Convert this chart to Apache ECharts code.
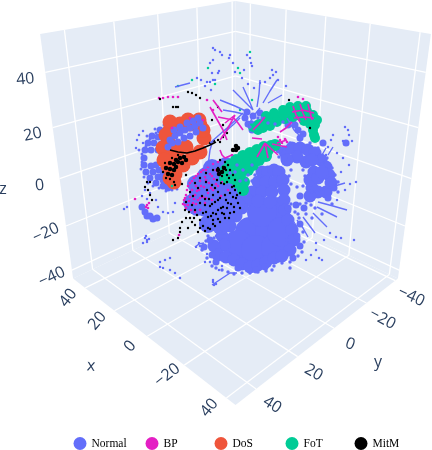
<!DOCTYPE html>
<html><head><meta charset="utf-8">
<style>html,body{margin:0;padding:0;background:#fff}#c{width:432px;height:450px}</style>
<script src="https://cdn.jsdelivr.net/npm/echarts@6/dist/echarts.min.js"></script></head>
<body><div id="c"></div><script>
// Axis ticks and labels
const xTicks=[40,20,0,-20,-40];
const yTicks=[40,20,0,-20,-40];
const zTicks=[40,20,0,-20,-40];
const xTickText=['40','20','0','\u221220','40'];
const yTickText=['40','20','0','\u221220','\u221240'];
const zTickText=['40','20','0','\u221220','\u221240'];
const classNames=['Normal','BP','DoS','FoT','MitM'];

// Readings on the projected picture plane, grouped by class and by how dense the cloud is there
const normalCore=[[250,232],[270,232],[275,212],[262,212],[238,245],[256,250],[276,248],[282,232]];
const normalBody=[[262,172],[268,172],[274,170],[279,172],[258,182],[266,182],[275,182],[283,180],[252,192],[262,192],[272,192],[284,190],[248,200],[258,201],[270,202],[284,200],[242,208],[285,210],[236,216],[288,220],[230,226],[292,230],[222,236],[224,245],[294,240],[214,246],[290,250],[218,255],[226,257],[234,260],[242,264],[250,267],[258,265],[266,262],[274,258],[282,256],
 [285,152],[292,148],[300,148],[308,150],[315,153],[321,160],[326,167],[329,175],[331,183],[326,192],[318,192],[312,188],[310,180],[314,172],[306,162],[297,157],[287,160],[318,178],[322,172],[312,160],[310,196]];
const normalCluster=[[215,180],[225,177],[205,185],[198,195],[210,195],[222,190],[230,185],[205,208],[218,205],[230,200],[228,213],[215,218],[208,224],[192,203],[196,184],[206,176],[216,170],[226,166],[233,178],[236,192],[236,205],[221,226],[197,207],[212,168]];
const normalMid=[[279,150],[284,158],[296,205],[288,208],[300,196],[304,208],[334,188],[328,198],[300,224],[297,236],[300,246],[293,258],[265,267],[256,270],[238,268],[212,255],[216,262],[210,240],[204,247],
 [247,112],[253,116],[260,113],[266,120],[256,124],[248,124],[262,128],[252,130],[245,118],[295,125],[298,130],[303,134],[293,120],[288,125],[300,138]];
const normalFringe=[[208,236],[206,241],[202,250],[207,258],[212,266],[216,268],[222,270],[228,272],[234,274],[242,273],[250,273],[258,272],[266,271],[274,266],[282,263],[290,262],[298,256],[302,252],[304,242],[303,232],[299,218],[295,212],[291,204],[300,204],[306,203],[311,205],[315,208],[306,214],[298,214],[312,218],[322,214],[332,204],[338,192],[338,182],[335,175],[332,168],[327,158],[318,148],[310,143],[300,143],[290,143],[282,148],[279,157],[247,187],[243,196],[237,204],[230,214],[225,222],[219,229],[214,238],[291,170],[289,176],[291,184],[297,187],[303,186],[305,176],[303,170],[255,175],[252,181],[287,240],[290,268],[272,270]];
const normalLeft=[[168,127],[160,130],[152,136],[148,143],[145,150],[144,158],[144,165],[146,172],[150,178],[156,183],[163,186],[168,188],[165,133],[158,137],[154,143],[151,150],[151,166],[153,172],[158,177],[163,180],[168,182],[172,185],[170,128],[172,133],[166,140],[161,144],[158,150],[156,165],[159,170],[163,175],[168,176],[164,150],[162,158],[142,207],[145,212],[147,216],[150,216],[153,219],[157,218],[323,143],[346,143]];
const normalLeftFine=[[156,133],[150,139],[146,146],[142,154],[142,162],[141,169],[144,177],[148,183],[153,186],[159,188],[166,191],[172,190],[177,189],[164,125],[172,124],[176,126],[155,129],[147,136],[139,150]];
const normalBand=[[170,140],[175,136],[180,133],[185,130],[190,128],[195,126],[200,123],[174,130],[180,127],[187,123],[193,121],[198,118],[168,147],[172,143],[178,142],[184,138],[190,136],[196,132],[203,128]];
const normalFine=[[213,48],[215,50],[220,52],[222,55],[230,55],[229,58],[233,63],[235,72],[247,55],[250,58],[251,63],[252,66],[210,82],[215,80],[218,73],[212,73],[219,71],[213,60],[210,63],[207,82],[213,80],
 [272,70],[273,75],[270,78],[265,82],[260,83],[286,86],[276,72],[278,80],[244,70],[242,78],[254,88],[248,84],[197,78],[201,80],[205,86],[211,90],
 [345,127],[348,130],[349,135],[352,141],[348,144],[343,141],[333,135],[331,140],[328,147],[326,155],[324,163],[349,165],[343,158],[337,153],[341,172],[350,184],[356,182],[345,190],[337,200],
 [306,260],[311,255],[316,250],[316,243],[319,258],[322,260],[324,240],[341,238],[336,237],[330,233],[354,240],[213,282],[214,285],[213,280],[216,284],
 [199,243],[200,246],[196,247],[207,254],[222,266],[216,236],[222,231],[210,262],[205,262],[219,270],
 [145,238],[147,240],[147,242],[143,243],[149,239],[146,236],[160,262],[165,260],[170,258],[160,267],[163,268],[170,270],[175,273],[180,278],[124,209],[127,207],[156,200],[158,207],[163,212],[168,213],[173,212],[175,203],
 [137,140],[139,135],[143,131],[143,143],[136,148],[145,190],[150,193],[142,196],[147,199]];
const normalRays=[[[310,193],[328,188],[345,183]],[[318,202],[333,206],[347,210]],[[317,207],[327,212],[337,217]],[[313,213],[320,220],[327,227]],[[303,217],[309,225],[315,233]],[[297,220],[303,228],[308,237]],[[290,215],[294,222],[297,227]],[[322,155],[326,148]],[[328,155],[333,147]],
 [[212,285],[221,279],[230,273],[237,273]],[[195,247],[199,244],[204,243]],[[253,110],[248,98],[243,87]],[[253,110],[243,100],[233,90]],[[250,113],[235,106],[220,100]],[[257,107],[259,94],[260,80]],[[263,103],[270,91],[277,80]],[[268,103],[275,99],[282,95]],[[247,115],[235,112],[223,110]],[[243,113],[227,128],[210,143]],[[260,108],[252,118],[248,128]],[[208,167],[209,158],[210,150],[213,140]],[[175,87],[190,83]],[[240,118],[234,124],[226,131]],[[287,118],[294,130],[300,136]]];
const fotBody=[[230,165],[236,160],[243,156],[250,153],[257,150],[264,147],[271,146],[262,153],[254,158],[247,163],[240,167],[234,170],[240,175],[248,170],[244,182],[232,178],[275,145],[268,150],[226,170],[225,178],[238,183],[253,165],[259,160],[266,156],[243,190]];
const fotUpper=[[253,127],[259,124],[265,121],[271,118],[277,116],[283,114],[289,112],[295,111],[301,110],[307,111],[313,115],[317,120],[315,125],[313,130],[314,135],[300,116],[293,117],[285,119],[277,122],[270,126],[263,128],[315,138],[290,107],[298,106],[306,106],[283,110],[274,113],[266,116],[309,118],[310,124],[304,121],[258,130]];
const fotFine=[[240,73],[238,68],[192,80],[178,86],[208,68],[250,52],[172,186],[240,110],[262,116],[252,100],[215,84]];
const normalOverFot=[[237,165],[243,170],[248,175],[235,172],[240,181],[230,173],[252,165],[246,180],[252,122],[258,118],[250,127],[262,118],[268,123],[275,124],[283,122]];
const dosBody=[[170,130],[180,124],[190,124],[200,125],[168,142],[166,155],[168,166],[175,174],[174,182],[183,165],[192,158],[200,152],[204,138],[203,130],[178,150],[176,160],[186,147],[170,122],[166,135],[163,148],[164,160],[170,178],[188,120],[199,120]];
const bpSpecks=[[187,190],[186,195],[184,200],[190,183],[194,178],[198,174],[203,170],[208,167],[213,164],[218,162],[192,190],[196,186],[200,181],[205,177],[210,174],[216,170],[190,197],[195,195],[199,190],[204,187],[209,183],[214,179],[220,175],[193,203],[198,200],[203,197],[208,193],[213,190],[218,186],[225,168],[222,182],[188,205],[191,210],[200,210],[205,203],[212,200],[221,196],[228,190],
 [188,186],[192,181],[196,176],[201,172],[206,170],[185,198],[189,201],[194,199],[197,191],[201,186],[206,180],[212,176],[218,172],[183,204],[186,208],[196,204],[200,198],[206,198],[211,188],[216,184],
 [147,205],[146,207],[149,203],[148,208],[135,199],[159,98],[163,98],[168,97],[173,97],[178,97],[207,100],[213,110],[298,97],[303,99],[280,140],[282,143],[285,139],[278,137],[287,142],[195,212],[232,155],[185,205],[179,235],[172,128],[203,120],[190,118],[176,167]];
const bpStreaks=[[[293,106],[296,115],[300,122]],[[300,104],[303,113],[306,120]],[[308,104],[310,112],[312,120]],[[292,112],[303,110],[314,113]],[[294,118],[304,117],[314,118]],[[280,132],[286,128],[292,122]],[[243,130],[238,123],[233,117]],[[225,123],[230,119],[235,115]],[[253,130],[259,124],[265,117]],[[252,138],[262,139]],[[277,143],[287,140]],[[265,143],[268,158]],[[265,143],[257,157]],[[265,143],[278,155]],[[272,144],[287,147]],[[210,107],[223,130],[227,140]],[[218,117],[233,120]],[[220,140],[227,130],[235,115]],[[220,150],[222,155],[225,158],[232,155]],[[213,100],[222,112]]];
const mitmSpecks=[[220,160],[225,162],[228,165],[230,170],[223,167],[218,168],[233,175],[235,180],[227,175],[213,170],[206,173],[200,178],[195,183],[190,192],[186,202],[192,205],[189,212],[186,218],[185,210],[182,222],[180,228],[178,238],[173,240],[180,232],[195,225],[200,228],[205,231],[210,229],[215,226],[220,222],[225,218],[230,213],[234,207],[197,215],[203,213],[208,217],[213,213],[218,210],[223,207],[228,203],[233,197],[205,205],[210,206],[215,202],[220,198],[225,195],[230,193],[235,190],[237,195],[200,203],[195,210],[190,218],[207,190],[212,185],[217,180],[222,176],[227,182],[232,187],[202,196],[198,188],[206,182],[193,196],[213,195],[218,192],[209,199],[200,220],[213,220],[222,213],[227,208],
 [203,226],[208,228],[213,224],[218,219],[224,214],[229,218],[234,212],[238,203],[240,208],[192,222],[188,228],[198,232],[194,218],[206,212],[211,216],[216,214],[221,208],[226,200],[231,204],[236,198],[240,193],[218,200],[212,204],[205,199],[224,184],[229,178],[234,186],[226,170],[221,183],[215,188],
 [147,182],[150,182],[148,190],[150,195],[152,200],[145,187],[186,175],[182,184],[175,185],[160,99],[173,107],[176,107],[178,107],[188,92],[192,93],[196,95],[200,98],[289,100],[310,128],[218,107],[212,120],[223,125],[227,133],[223,137],[220,142],[210,143],[214,141],[218,140],[178,155],[172,158],[165,163],[163,172],[166,178],[170,179],[174,182]];
const mitmClumps=[[176,160],[180,158],[184,157],[170,163],[174,164],[178,162],[182,163],[166,168],[170,169],[174,170],[168,174],[172,175],[176,167],[186,160],[218,170],[222,172],[224,168],[219,174],[236,146],[236,150],[233,150],[238,148]];
const mitmStreaks=[[[170,150],[178,152],[187,153],[195,151],[203,148],[210,145],[216,142]]];

// Plot box: value ranges and a fitted perspective camera
const R={x:[-44,49],y:[-42,49],z:[-44,53]};
const CAM={cx:235.5,cy:167.5,a:88.7,b:37.3,c:121.2,g:.1339,k:.0921};
function project(x,y,z){
  const n=(v,r)=>(v-(r[0]+r[1])/2)/((r[1]-r[0])/2);
  const xn=n(x,R.x),yn=n(y,R.y),zn=n(z,R.z),p=xn+yn,q=xn-yn,w=1+CAM.g*q-CAM.k*zn;
  return [CAM.cx-CAM.a*p/w,CAM.cy-(CAM.b*q+CAM.c*zn)/w];
}
const [x0,x1]=R.x,[y0,y1]=R.y,[z0,z1]=R.z;
const walls=[[[x1,y1,z0],[x1,y0,z0],[x1,y0,z1],[x1,y1,z1]],[[x1,y0,z0],[x0,y0,z0],[x0,y0,z1],[x1,y0,z1]],[[x1,y1,z0],[x0,y1,z0],[x0,y0,z0],[x1,y0,z0]]];
const gridSegs=[];
yTicks.forEach(t=>{gridSegs.push([[x1,t,z0],[x1,t,z1]],[[x1,t,z0],[x0,t,z0]]);});
xTicks.forEach(t=>{gridSegs.push([[t,y0,z0],[t,y0,z1]],[[t,y0,z0],[t,y1,z0]]);});
zTicks.forEach(t=>{gridSegs.push([[x1,y1,t],[x1,y0,t]],[[x1,y0,t],[x0,y0,t]]);});
const INK='#2a3f5f', FONT='16px "Open Sans"';
const texts=[];
xTicks.forEach((t,i)=>texts.push({s:xTickText[i],p:project(t,y1,z0),dx:-17,dy:10,r:[52,50,48,38,50][i]}));
yTicks.forEach((t,i)=>texts.push({s:yTickText[i],p:project(x0,t,z0),dx:16,dy:16,r:[-32,-30,-20,-28,-25][i]}));
zTicks.forEach((t,i)=>texts.push({s:zTickText[i],p:project(x1,y1,t),dx:-20,dy:7,r:[6,12,5,25,25][i]}));
const titles=[{s:'x',p:[91,366],dx:0,dy:0,r:-5},{s:'y',p:[378,362],dx:0,dy:0,r:0},{s:'z',p:[3,189],dx:0,dy:0,r:0}];

const strokes=a=>a.flatMap(s=>[...s,['-','-']]);
const C={Normal:'#636EFA',BP:'#E41FC4',DoS:'#EF553B',FoT:'#00CC96',MitM:'#000000'};
const dots=(name,data,size)=>({type:'scatter',name,data,symbol:'circle',symbolSize:size,itemStyle:{color:C[name],opacity:1},silent:true});
const trail=(name,data,w)=>({type:'line',name,data:strokes(data),showSymbol:false,symbol:'none',connectNulls:false,itemStyle:{color:C[name]},lineStyle:{color:C[name],width:w},silent:true});
const legendLefts=[73.5,145.5,214.5,285.5,354.5];

const chart=echarts.init(document.getElementById('c'),null,{renderer:'canvas'});
chart.setOption({
 animation:false,backgroundColor:'#fff',
 grid:{left:0,right:0,top:0,bottom:0},
 xAxis:{type:'value',min:0,max:432,show:false},
 yAxis:{type:'value',min:0,max:450,inverse:true,show:false},
 legend:classNames.map((n,i)=>({data:[{name:n,icon:'circle'}],left:legendLefts[i],top:437,padding:0,itemWidth:13,itemHeight:13,
  textStyle:{fontFamily:'"Liberation Serif"',fontSize:11.5,color:'#000'}})),
 series:[
  {type:'custom',silent:true,data:walls.map((_,i)=>[i]),clip:false,renderItem:(p,api)=>({type:'polygon',shape:{points:walls[api.value(0)].map(c=>api.coord(project(...c)))},style:{fill:'#E5ECF6'}})},
  {type:'custom',silent:true,data:gridSegs.map((_,i)=>[i]),clip:false,renderItem:(p,api)=>{const s=gridSegs[api.value(0)],a=api.coord(project(...s[0])),b=api.coord(project(...s[1]));return{type:'line',shape:{x1:a[0],y1:a[1],x2:b[0],y2:b[1]},style:{stroke:'#fff',lineWidth:1.3}};}},
  {type:'custom',silent:true,data:texts.concat(titles).map((_,i)=>[i]),clip:false,renderItem:(p,api)=>{const t=texts.concat(titles)[api.value(0)],c=api.coord(t.p);return{type:'text',x:c[0]+t.dx,y:c[1]+t.dy,rotation:t.r*Math.PI/180,style:{text:t.s,fill:INK,font:FONT,align:'center',verticalAlign:'middle'}};}},
  dots('Normal',normalCore,30),dots('Normal',normalBody,13),dots('Normal',normalCluster,18),dots('Normal',normalMid,7),dots('Normal',normalLeft,7),dots('Normal',normalFringe,3.5),dots('Normal',normalLeftFine,3),dots('Normal',normalFine,2.5),trail('Normal',normalRays,1.4),
  dots('DoS',dosBody,15),
  dots('Normal',normalBand,7),
  dots('FoT',fotBody,12),dots('FoT',fotUpper,10),dots('FoT',fotFine,2.5),
  dots('Normal',normalOverFot,3.5),
  dots('BP',bpSpecks,2.6),trail('BP',bpStreaks,1.6),
  dots('MitM',mitmSpecks,2.4),dots('MitM',mitmClumps,4.5),trail('MitM',mitmStreaks,1.6)
 ]
});
</script></body></html>
